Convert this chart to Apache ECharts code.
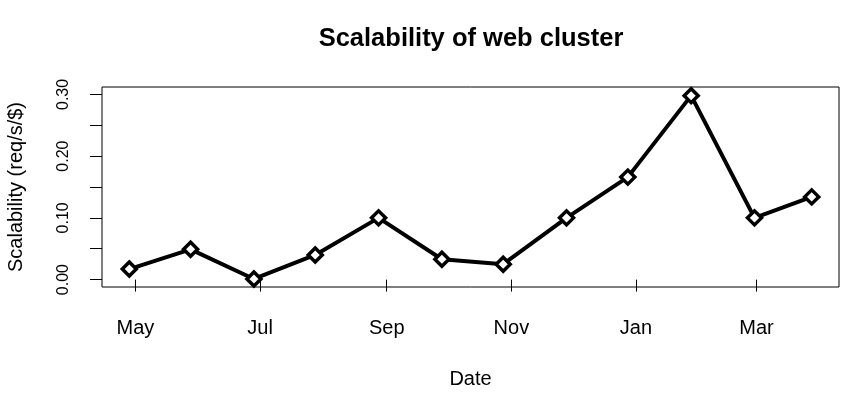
<!DOCTYPE html>
<html>
<head>
<meta charset="utf-8">
<script src="https://cdn.jsdelivr.net/npm/echarts@6/dist/echarts.min.js"></script>
<style>
  html, body { margin: 0; padding: 0; background: #fff; }
  #chart { width: 856px; height: 399px; }
</style>
</head>
<body>
<div id="chart"></div>
<script>
// Data
const dates = ['2010-04-28','2010-05-28','2010-06-28','2010-07-28','2010-08-28','2010-09-28',
               '2010-10-28','2010-11-28','2010-12-28','2011-01-28','2011-02-28','2011-03-28'];
const values = [0.017, 0.049, 0.001, 0.040, 0.100, 0.033, 0.025, 0.100, 0.166, 0.298, 0.100, 0.134];
const xTickDates = ['2010-05-01','2010-07-01','2010-09-01','2010-11-01','2011-01-01','2011-03-01'];
const xTickLabels = ['May','Jul','Sep','Nov','Jan','Mar'];
const yTicks = [0, 0.05, 0.10, 0.15, 0.20, 0.25, 0.30];
const yTickLabels = [0, 0.10, 0.20, 0.30];

function ts(s) { const p = s.split('-').map(Number); return Date.UTC(p[0], p[1]-1, p[2]); }
const xs = dates.map(ts);
const xMin = Math.min(...xs), xMax = Math.max(...xs);
const xPad = (xMax - xMin) * 0.04;
const yMinV = Math.min(...values, 0), yMaxV = 0.30;
const yPad = (yMaxV - yMinV) * 0.04;
const tickTs = xTickDates.map(ts);
function labelFor(v) {
  for (let i = 0; i < tickTs.length; i++) if (Math.abs(tickTs[i] - v) < 3600000) return xTickLabels[i];
  return '';
}

const font = 'Liberation Sans, Arial, Helvetica, sans-serif';
const chart = echarts.init(document.getElementById('chart'), null, { renderer: 'canvas' });
chart.setOption({
  animation: false,
  backgroundColor: '#fff',
  title: {
    text: 'Scalability of web cluster',
    left: 466, top: 21, textAlign: 'center',
    textStyle: { fontFamily: font, fontSize: 25.5, fontWeight: 'bold', color: '#000' }
  },
  grid: { left: 102, right: 17, top: 87, bottom: 112, show: true, borderColor: '#000', borderWidth: 1,
          backgroundColor: 'transparent', containLabel: false, outerBoundsMode: 'none' },
  xAxis: {
    type: 'value',
    min: xMin - xPad, max: xMax + xPad,
    name: 'Date', nameLocation: 'middle', nameGap: 82,
    nameTextStyle: { fontFamily: font, fontSize: 20, color: '#000' },
    axisLine: { show: false },
    splitLine: { show: false },
    axisTick: { show: true, inside: false, length: 12, customValues: tickTs, lineStyle: { color: '#000', width: 1 } },
    axisLabel: { customValues: tickTs, margin: 31, fontFamily: font, fontSize: 20, color: '#000',
                 formatter: function (v) { return labelFor(v); } }
  },
  yAxis: {
    type: 'value',
    min: yMinV - yPad, max: yMaxV + yPad,
    name: 'Scalability (req/s/$)', nameLocation: 'middle', nameGap: 76, nameRotate: 90,
    nameTextStyle: { fontFamily: font, fontSize: 20, color: '#000' },
    axisLine: { show: false },
    splitLine: { show: false },
    axisTick: { show: true, inside: false, length: 12, customValues: yTicks, lineStyle: { color: '#000', width: 1 } },
    axisLabel: { customValues: yTickLabels, rotate: 90, margin: 30, fontFamily: font, fontSize: 16, color: '#000',
                 formatter: function (v) { return v.toFixed(2); } }
  },
  series: [{
    type: 'line',
    data: xs.map((x, i) => [x, values[i]]),
    lineStyle: { color: '#000', width: 4 },
    symbol: 'diamond', symbolSize: 14,
    itemStyle: { color: '#fff', borderColor: '#000', borderWidth: 3.5 },
    z: 3
  }]
});
</script>
</body>
</html>
